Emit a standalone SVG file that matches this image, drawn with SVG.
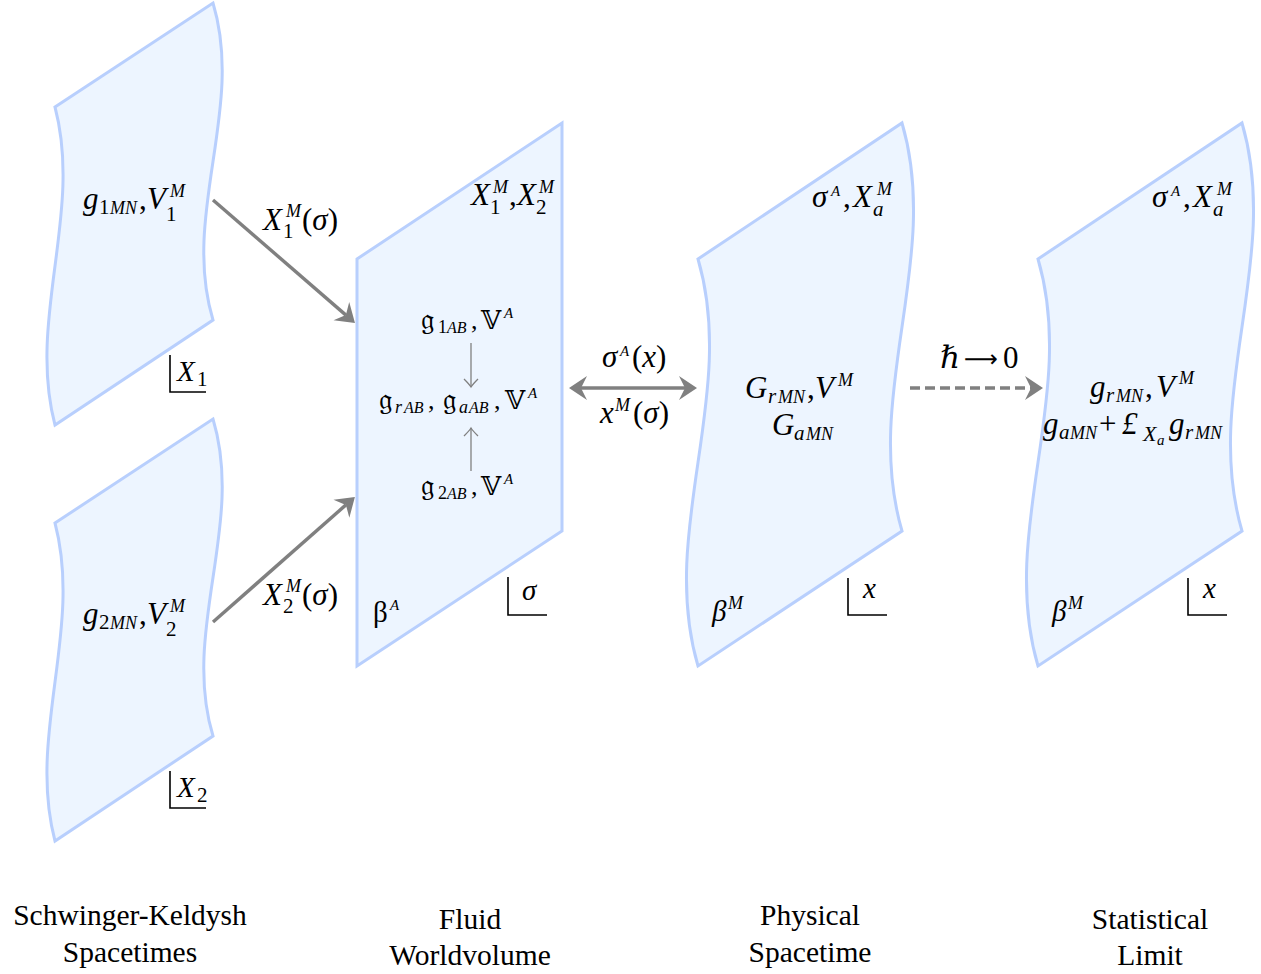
<svg xmlns="http://www.w3.org/2000/svg" width="1261" height="974" viewBox="0 0 1261 974">
<style>
.sheet{fill:#edf5ff;stroke:#b8cffd;stroke-width:3;stroke-linejoin:miter}
.m{font-family:"Liberation Serif","DejaVu Serif",serif;font-size:31px;font-style:italic;fill:#000}
.f{font-family:"Liberation Serif","DejaVu Serif","DejaVu Sans",serif;font-size:26px;font-style:normal;fill:#000}
.fg{font-size:30px}
.r{font-style:normal}
.s{font-size:21px}
.ss{font-size:18px}
.ab{font-size:16px}
.t{font-size:15px}
.k{font-size:29px}
.cap{font-family:"Liberation Serif",serif;font-size:29.5px;text-anchor:middle;fill:#000}
.br{fill:none;stroke:#000;stroke-width:1.6}
.conn{stroke:#808080;stroke-width:3.4;fill:none}
.thin{stroke:#808080;stroke-width:1.3;fill:none}
</style>
<defs>
<marker id="st" viewBox="-17 -13 20 26" refX="-10" refY="0" markerWidth="20" markerHeight="26" markerUnits="userSpaceOnUse" orient="auto-start-reverse" overflow="visible">
<path d="M2,0 L-16,-12 L-10,0 L-16,12 Z" fill="#808080"/>
</marker>
<marker id="to" viewBox="-9 -8 10 16" refX="0" refY="0" markerWidth="10" markerHeight="16" markerUnits="userSpaceOnUse" orient="auto" overflow="visible">
<path d="M-8,-7 Q-2.5,-1.5 0,0 Q-2.5,1.5 -8,7" fill="none" stroke="#808080" stroke-width="1.3"/>
</marker>
</defs>

<g id="sk1">
<path class="sheet" d="M55,107 L213,3 C245,109 181,214 213,320 L55,425 C27,319 83,213 55,107 Z"/>
<text class="m"><tspan x="83" y="209">g</tspan><tspan class="r s" x="99" y="214">1</tspan><tspan class="ss" x="110" y="214">MN</tspan><tspan class="r" x="139" y="209">,</tspan><tspan x="147" y="209">V</tspan><tspan class="ss" x="170" y="197">M</tspan><tspan class="r s" x="166" y="221">1</tspan></text>
<path class="br" d="M170,355 V392 H206"/>
<text class="m k"><tspan x="177" y="381">X</tspan><tspan class="r s" x="197" y="386">1</tspan></text>
</g>

<g id="sk2">
<path class="sheet" d="M55,523 L213,419 C245,525 181,630 213,736 L55,841 C27,735 83,629 55,523 Z"/>
<text class="m"><tspan x="83" y="624">g</tspan><tspan class="r s" x="99" y="629">2</tspan><tspan class="ss" x="110" y="629">MN</tspan><tspan class="r" x="139" y="624">,</tspan><tspan x="147" y="624">V</tspan><tspan class="ss" x="170" y="612">M</tspan><tspan class="r s" x="166" y="636">2</tspan></text>
<path class="br" d="M170,771 V808 H206"/>
<text class="m k"><tspan x="177" y="797">X</tspan><tspan class="r s" x="197" y="802">2</tspan></text>
</g>

<g id="fluid">
<path class="sheet" d="M357,259 L562,123 L562,531 L357,666 Z"/>
<text class="m"><tspan x="471" y="205">X</tspan><tspan class="ss" x="493" y="193">M</tspan><tspan class="r s" x="490" y="214">1</tspan><tspan class="r" x="509" y="205">,</tspan><tspan x="517" y="205">X</tspan><tspan class="ss" x="539" y="193">M</tspan><tspan class="r s" x="536" y="214">2</tspan></text>
<text class="f"><tspan class="fg" x="421" y="329">𝔤</tspan><tspan class="ss" x="438" y="333">1</tspan><tspan class="m ab" x="447" y="333">AB</tspan><tspan x="471" y="329">,</tspan><tspan x="481" y="329">𝕍</tspan><tspan class="m t" x="504" y="318">A</tspan></text>
<text class="f"><tspan class="fg" x="379" y="409">𝔤</tspan><tspan class="m ss" x="395" y="413">r</tspan><tspan class="m ab" x="404" y="413">AB</tspan><tspan x="428" y="409">,</tspan><tspan class="fg" x="443" y="409">𝔤</tspan><tspan class="m ss" x="459" y="413">a</tspan><tspan class="m ab" x="469" y="413">AB</tspan><tspan x="494" y="409">,</tspan><tspan x="505" y="409">𝕍</tspan><tspan class="m t" x="528" y="398">A</tspan></text>
<text class="f"><tspan class="fg" x="421" y="495">𝔤</tspan><tspan class="ss" x="438" y="499">2</tspan><tspan class="m ab" x="447" y="499">AB</tspan><tspan x="471" y="495">,</tspan><tspan x="481" y="495">𝕍</tspan><tspan class="m t" x="504" y="484">A</tspan></text>
<path class="thin" d="M471,343 V387" marker-end="url(#to)"/>
<path class="thin" d="M471,471 V428" marker-end="url(#to)"/>
<text class="f"><tspan class="k" x="373" y="622">β</tspan><tspan class="m t" x="390" y="610">A</tspan></text>
<path class="br" d="M508,577 V615 H547"/>
<text class="m k"><tspan x="522" y="600">σ</tspan></text>
</g>

<g id="physical">
<path class="sheet" d="M698,259 L902,123 C942,259 862,395 902,531 L698,666 C658,530 738,395 698,259 Z"/>
<text class="m"><tspan x="812" y="207">σ</tspan><tspan class="t" x="831" y="196">A</tspan><tspan class="r" x="843" y="207">,</tspan><tspan x="853" y="207">X</tspan><tspan class="ss" x="877" y="195">M</tspan><tspan class="s" x="873" y="216">a</tspan></text>
<text class="m"><tspan x="745" y="398">G</tspan><tspan class="s" x="768" y="403">r</tspan><tspan class="ss" x="778" y="403">MN</tspan><tspan class="r" x="807" y="398">,</tspan><tspan x="815" y="398">V</tspan><tspan class="ss" x="838" y="386">M</tspan></text>
<text class="m"><tspan x="772" y="435">G</tspan><tspan class="s" x="794" y="440">a</tspan><tspan class="ss" x="806" y="440">MN</tspan></text>
<text class="m k"><tspan x="712" y="621">β</tspan><tspan class="ss" x="728" y="609">M</tspan></text>
<path class="br" d="M848,578 V615 H887"/>
<text class="m k"><tspan x="863" y="598">x</tspan></text>
</g>

<g id="statistical">
<path class="sheet" d="M1038,259 L1242,123 C1282,259 1202,395 1242,531 L1038,666 C998,530 1078,395 1038,259 Z"/>
<text class="m"><tspan x="1152" y="207">σ</tspan><tspan class="t" x="1171" y="196">A</tspan><tspan class="r" x="1183" y="207">,</tspan><tspan x="1193" y="207">X</tspan><tspan class="ss" x="1217" y="195">M</tspan><tspan class="s" x="1213" y="216">a</tspan></text>
<text class="m"><tspan x="1090" y="397">g</tspan><tspan class="s" x="1106" y="402">r</tspan><tspan class="ss" x="1116" y="402">MN</tspan><tspan class="r" x="1145" y="397">,</tspan><tspan x="1156" y="397">V</tspan><tspan class="ss" x="1179" y="384">M</tspan></text>
<text class="m"><tspan x="1043" y="434">g</tspan><tspan class="s" x="1059" y="439">a</tspan><tspan class="ss" x="1070" y="439">MN</tspan><tspan class="r" x="1099" y="434">+</tspan><tspan x="1122" y="434">£</tspan><tspan style="font-size:22px" x="1143" y="441">X</tspan><tspan class="t" x="1157" y="445">a</tspan><tspan x="1169" y="434">g</tspan><tspan class="s" x="1185" y="439">r</tspan><tspan class="ss" x="1195" y="439">MN</tspan></text>
<text class="m k"><tspan x="1052" y="621">β</tspan><tspan class="ss" x="1068" y="609">M</tspan></text>
<path class="br" d="M1188,578 V615 H1227"/>
<text class="m k"><tspan x="1203" y="598">x</tspan></text>
</g>

<g id="connectors">
<path class="conn" d="M213,200 L345.9,315.1" marker-end="url(#st)"/>
<path class="conn" d="M213,622 L345.9,504.9" marker-end="url(#st)"/>
<path class="conn" d="M581,388 L685,388" marker-start="url(#st)" marker-end="url(#st)"/>
<path class="conn" d="M910,388 L1031,388" stroke-dasharray="10 5" marker-end="url(#st)"/>
<text class="m"><tspan x="263" y="230">X</tspan><tspan class="ss" x="286" y="217">M</tspan><tspan class="r s" x="283" y="238">1</tspan><tspan class="r" x="302" y="230">(</tspan><tspan>σ</tspan><tspan class="r">)</tspan></text>
<text class="m"><tspan x="263" y="605">X</tspan><tspan class="ss" x="286" y="592">M</tspan><tspan class="r s" x="283" y="613">2</tspan><tspan class="r" x="302" y="605">(</tspan><tspan>σ</tspan><tspan class="r">)</tspan></text>
<text class="m"><tspan x="602" y="367">σ</tspan><tspan class="t" x="620" y="356">A</tspan><tspan class="r" x="632" y="367">(</tspan><tspan>x</tspan><tspan class="r">)</tspan></text>
<text class="m"><tspan x="600" y="423">x</tspan><tspan class="ss" x="615" y="411">M</tspan><tspan class="r" x="633" y="423">(</tspan><tspan>σ</tspan><tspan class="r">)</tspan></text>
<text class="m"><tspan x="940" y="368">ℏ</tspan><tspan class="r" x="1003" y="368">0</tspan></text>
<text style="font-family:'DejaVu Sans',sans-serif;font-size:24px;fill:#000" x="964" y="367" textLength="34" lengthAdjust="spacingAndGlyphs">⟶</text>
</g>

<g id="captions">
<text class="cap" x="130" y="925">Schwinger-Keldysh</text>
<text class="cap" x="130" y="962">Spacetimes</text>
<text class="cap" x="470" y="929">Fluid</text>
<text class="cap" x="470" y="965">Worldvolume</text>
<text class="cap" x="810" y="925">Physical</text>
<text class="cap" x="810" y="962">Spacetime</text>
<text class="cap" x="1150" y="929">Statistical</text>
<text class="cap" x="1150" y="965">Limit</text>
</g>
</svg>
